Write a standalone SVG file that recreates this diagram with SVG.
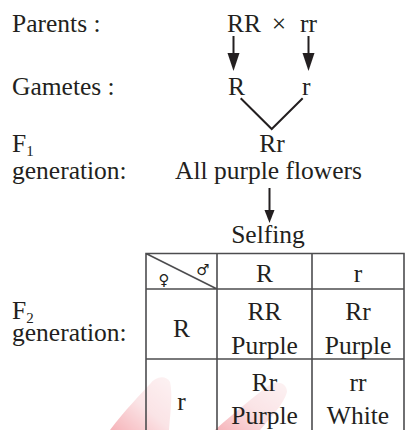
<svg xmlns="http://www.w3.org/2000/svg" width="405" height="430" viewBox="0 0 405 430">
<defs>
<style>
text{font-family:"Liberation Serif","Times New Roman",serif;font-size:25.5px;fill:#231f20}
.m{text-anchor:middle}
.sub{font-size:15px}
.sym{font-family:"DejaVu Sans",sans-serif;font-size:15px;text-anchor:middle}
.ln{stroke:#231f20;stroke-width:2;fill:none}
.head{fill:#231f20}
.grid{stroke:#4d4d4f;stroke-width:1.6;fill:none}
</style>
<linearGradient id="wm" x1="0" y1="1" x2="1" y2="0">
<stop offset="0" stop-color="#ec5a66"/>
<stop offset="0.5" stop-color="#f6c4c9"/>
<stop offset="1" stop-color="#fbe3e5"/>
</linearGradient>
</defs>
<rect width="405" height="430" fill="#fff"/>
<g id="watermark" opacity="0.45">
<path d="M110,430 C125,410 140,395 150,384 C156,376 166,375 170,382 C173,395 170,415 169,430 Z" fill="url(#wm)"/>
<path d="M215,430 C235,412 255,396 268,386 C276,380 287,382 287,392 C284,404 270,418 260,430 Z" fill="url(#wm)"/>
</g>
<g id="labels">
<text x="12" y="32">Parents :</text>
<text x="12" y="95">Gametes :</text>
<text x="12" y="152">F<tspan class="sub" dy="4">1</tspan></text>
<text x="12" y="179">generation:</text>
<text x="12" y="319">F<tspan class="sub" dy="4">2</tspan></text>
<text x="12" y="341">generation:</text>
</g>
<g id="parents">
<text x="227" y="32">RR</text>
<text class="m" x="279" y="32">×</text>
<text x="300" y="32">rr</text>
</g>
<g id="gametes">
<text x="228" y="95">R</text>
<text x="302" y="95">r</text>
</g>
<g id="f1">
<text class="m" x="272" y="152">Rr</text>
<text class="m" x="268.5" y="179">All purple flowers</text>
</g>
<g id="selfing">
<text class="m" x="268" y="243">Selfing</text>
</g>
<g id="connectors">
<line class="ln" x1="233.5" y1="36" x2="233.5" y2="55"/>
<polygon class="head" points="227.5,53 239.5,53 233.5,71"/>
<line class="ln" x1="308.5" y1="36" x2="308.5" y2="55"/>
<polygon class="head" points="302.5,53 314.5,53 308.5,71"/>
<polyline class="ln" stroke-width="1.6" points="240.7,98.3 271.7,129 302.7,98.3"/>
<line class="ln" x1="269.5" y1="188" x2="269.5" y2="212"/>
<polygon class="head" points="264.5,210 274.5,210 269.5,223"/>
</g>
<g id="punnett">
<path class="grid" d="M146,430 V253.5 H404 V430 M217,253.5 V430 M312,253.5 V430 M146,289 H404 M146,359 H404 M146,253.5 L217,289"/>
<text class="sym" x="164" y="285">♀</text>
<text class="sym" x="203" y="275">♂</text>
<text class="m" x="264.5" y="282">R</text>
<text class="m" x="358" y="282">r</text>
<text class="m" x="181.5" y="337">R</text>
<text class="m" x="264.5" y="320">RR</text>
<text class="m" x="264.5" y="354">Purple</text>
<text class="m" x="358" y="320">Rr</text>
<text class="m" x="358" y="354">Purple</text>
<text class="m" x="181.5" y="410">r</text>
<text class="m" x="264.5" y="391">Rr</text>
<text class="m" x="264.5" y="424">Purple</text>
<text class="m" x="358" y="391">rr</text>
<text class="m" x="358" y="424">White</text>
</g>
</svg>
